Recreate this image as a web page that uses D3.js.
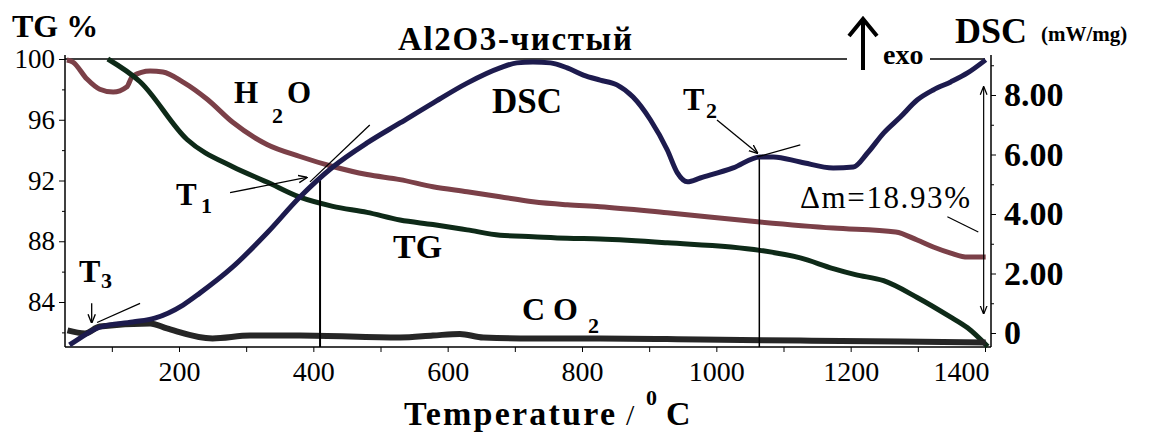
<!DOCTYPE html>
<html>
<head>
<meta charset="utf-8">
<script src="https://cdn.jsdelivr.net/npm/d3@7/dist/d3.min.js"></script>
<style>
  body { margin: 0; background: #fff; }
  svg { display: block; }
</style>
</head>
<body>
<div class="vis-ta"></div>
<script>
// TG curve (mass %, left axis)
const tgTemp = [94, 142, 212, 280, 331, 380, 429, 480, 529, 578, 629, 678, 727, 778, 827, 927, 1065, 1125, 1174, 1207, 1249, 1299, 1349, 1374, 1404];
const tgVal = [100, 98.5, 94.7, 92.9, 91.9, 90.9, 90.3, 89.9, 89.4, 89.1, 88.75, 88.4, 88.3, 88.2, 88.15, 87.9, 87.4, 86.9, 86.2, 85.8, 85.4, 84.3, 83.0, 82.3, 81.07];

// H2O signal (drawn on the TG scale)
const h2oTemp = [33, 42, 63, 82, 102, 122, 131, 157, 176, 206, 242, 280, 331, 380, 429, 480, 529, 578, 629, 678, 727, 778, 827, 927, 1065, 1174, 1267, 1299, 1323, 1349, 1374, 1401];
const h2oVal = [99.93, 99.8, 98.68, 98.01, 97.82, 98.15, 98.87, 99.21, 99.14, 98.48, 97.35, 95.83, 94.37, 93.58, 92.92, 92.39, 92.06, 91.59, 91.26, 90.93, 90.6, 90.4, 90.27, 89.87, 89.27, 88.87, 88.61, 88.08, 87.62, 87.22, 86.96, 86.96];

// DSC curve (mW/mg, right axis)
const dscTemp = [37, 48, 82, 131, 164, 206, 231, 280, 331, 380, 429, 480, 529, 578, 629, 678, 703, 727, 753, 778, 802, 827, 852, 876, 902, 927, 942, 957, 976, 1025, 1065, 1085, 1125, 1174, 1204, 1225, 1249, 1274, 1299, 1323, 1349, 1374, 1401];
const dscVal = [-0.4, -0.24, 0.2, 0.37, 0.5, 0.94, 1.34, 2.22, 3.36, 4.57, 5.58, 6.39, 7.06, 7.73, 8.4, 8.91, 9.08, 9.11, 9.08, 8.91, 8.67, 8.5, 8.34, 7.93, 7.16, 6.15, 5.38, 5.08, 5.21, 5.55, 5.92, 5.92, 5.75, 5.55, 5.58, 6.05, 6.72, 7.26, 7.83, 8.17, 8.44, 8.74, 9.18];

// CO2 signal (drawn on the TG scale)
const co2Temp = [34, 60, 82, 157, 182, 250, 306, 380, 529, 578, 618, 653, 727, 827, 976, 1125, 1274, 1401];
const co2Val = [82.13, 81.93, 82.39, 82.59, 82.26, 81.6, 81.79, 81.79, 81.66, 81.79, 81.9, 81.66, 81.6, 81.6, 81.53, 81.46, 81.4, 81.33];

// ticks
const xTicks = [100, 200, 300, 400, 500, 600, 700, 800, 900, 1000, 1100, 1200, 1300, 1400];
const tgTicks = [82, 84, 86, 88, 90, 92, 94, 96, 98, 100];
const dscTicks = [0, 1, 2, 3, 4, 5, 6, 7, 8, 9];

// marked temperatures
const t1Temp = 410, t1Dsc = 5.2;
const t2Temp = 1064, t2Dsc = 5.92;

const FONT = '"Liberation Serif", "Times New Roman", Times, "DejaVu Serif", serif';

const width = 1149, height = 436;
const svg = d3.select(".vis-ta").append("svg")
  .attr("width", width).attr("height", height);

const x = d3.scaleLinear().domain([200, 1400]).range([179, 985]);
const yTG = d3.scaleLinear().domain([84, 100]).range([302, 59]);
const yDSC = d3.scaleLinear().domain([0, 8]).range([333, 95]);

const frameL = 65, frameR = 991, frameB = 347, frameT = 55;

const defs = svg.append("defs");
defs.append("marker").attr("id", "ah")
  .attr("viewBox", "0 0 10 10").attr("refX", 9).attr("refY", 5)
  .attr("markerWidth", 7).attr("markerHeight", 7).attr("orient", "auto-start-reverse")
  .append("path").attr("d", "M0,1 L10,5 L0,9").attr("fill", "none").attr("stroke", "#000").attr("stroke-width", 1.5);

// frame lines
svg.append("line").attr("x1", frameL).attr("x2", frameL).attr("y1", frameT).attr("y2", frameB)
  .attr("stroke", "#000").attr("stroke-width", 1.5);
svg.append("line").attr("x1", frameR).attr("x2", frameR).attr("y1", frameT).attr("y2", frameB)
  .attr("stroke", "#000").attr("stroke-width", 1.5);
svg.append("line").attr("x1", frameL).attr("x2", 847).attr("y1", yTG(100)).attr("y2", yTG(100))
  .attr("stroke", "#000").attr("stroke-width", 1.5);
svg.append("line").attr("x1", 930).attr("x2", frameR - 6).attr("y1", yTG(100)).attr("y2", yTG(100))
  .attr("stroke", "#000").attr("stroke-width", 1.5);

// X axis
const xAxis = svg.append("g").attr("transform", "translate(0," + frameB + ")")
  .call(d3.axisBottom(x).tickValues(xTicks).tickSize(5).tickPadding(9).tickSizeOuter(0)
    .tickFormat((d) => (d % 200 === 0 ? d : "")));
xAxis.select(".domain").attr("d", "M" + frameL + ",0H" + frameR).attr("stroke-width", 1.5);
xAxis.selectAll("text").style("font-family", FONT).style("font-size", "28px").attr("fill", "#000")
  .attr("x", (d) => (d === 1400 ? -24 : 0));

// left axis (TG %)
const yAxisL = svg.append("g").attr("transform", "translate(" + frameL + ",0)")
  .call(d3.axisLeft(yTG).tickValues(tgTicks).tickSize(6).tickPadding(4)
    .tickFormat((d) => (d % 4 === 0 ? d : "")));
yAxisL.select(".domain").remove();
yAxisL.selectAll(".tick line").attr("x2", (d) => (d % 4 === 0 ? -6 : -3));
yAxisL.selectAll("text").style("font-family", FONT).style("font-size", "27px").attr("fill", "#000");

// right axis (DSC)
const yAxisR = svg.append("g").attr("transform", "translate(" + frameR + ",0)")
  .call(d3.axisRight(yDSC).tickValues(dscTicks).tickSize(5).tickPadding(8)
    .tickFormat((d) => (d === 0 ? "0" : d % 2 === 0 ? d.toFixed(2) : "")));
yAxisR.select(".domain").remove();
yAxisR.selectAll(".tick line").attr("x2", (d) => (d % 2 === 0 ? 5 : 3));
yAxisR.selectAll("text").style("font-family", FONT).style("font-size", "34px")
  .style("font-weight", "bold").attr("fill", "#000");

// curves
const curve = (temps, vals, yScale) =>
  d3.line().curve(d3.curveMonotoneX)
    .x((d, i) => x(temps[i]))
    .y((d) => yScale(d))(vals);

svg.append("path").attr("d", curve(h2oTemp, h2oVal, yTG))
  .attr("fill", "none").attr("stroke", "#7b4048").attr("stroke-width", 5).attr("stroke-linejoin", "round");
svg.append("path").attr("d", curve(tgTemp, tgVal, yTG))
  .attr("fill", "none").attr("stroke", "#0e2a18").attr("stroke-width", 5).attr("stroke-linejoin", "round");
svg.append("path").attr("d", curve(co2Temp, co2Val, yTG))
  .attr("fill", "none").attr("stroke", "#262626").attr("stroke-width", 6).attr("stroke-linejoin", "round");

// T1 / T2 vertical markers
svg.append("line").attr("x1", x(t1Temp)).attr("x2", x(t1Temp))
  .attr("y1", yDSC(t1Dsc)).attr("y2", frameB).attr("stroke", "#000").attr("stroke-width", 2);
svg.append("line").attr("x1", x(t2Temp)).attr("x2", x(t2Temp))
  .attr("y1", yDSC(t2Dsc)).attr("y2", frameB).attr("stroke", "#000").attr("stroke-width", 1.5);

svg.append("path").attr("d", curve(dscTemp, dscVal, yDSC))
  .attr("fill", "none").attr("stroke", "#1d1b4e").attr("stroke-width", 5).attr("stroke-linejoin", "round");

// tangents
const seg = (x1, y1, x2, y2, w) =>
  svg.append("line").attr("x1", x1).attr("y1", y1).attr("x2", x2).attr("y2", y2)
    .attr("stroke", "#000").attr("stroke-width", w || 1.2);
seg(x(395), yDSC(5.08), x(484), yDSC(6.99), 1.3);
seg(x(1061), yDSC(5.92), x(1125), yDSC(6.32), 1.3);
seg(x(78), yTG(82.65), x(142), yTG(83.91), 1.3);
seg(x(1344), yTG(89.61), x(1390), yTG(88.61), 1.2);

// arrows
seg(x(276), yTG(91.2), x(390), yTG(92.2), 1.3).attr("marker-end", "url(#ah)");
seg(x(1001), yDSC(7.16), x(1061), yDSC(6.05), 1.3).attr("marker-end", "url(#ah)");
seg(x(70), yTG(83.91), x(70), yTG(82.65), 1.3).attr("marker-end", "url(#ah)");
seg(x(1398), yTG(98.15), x(1398), yTG(83.25), 1.2)
  .attr("marker-start", "url(#ah)").attr("marker-end", "url(#ah)");

// exo arrow
svg.append("path").attr("d", "M863,70 V20 M849,36 L863,19 L877,36")
  .attr("fill", "none").attr("stroke", "#000").attr("stroke-width", 4);

// text
const label = (t, px, py, size, bold, anchor) =>
  svg.append("text").attr("x", px).attr("y", py).text(t)
    .attr("fill", "#000")
    .style("font-family", FONT)
    .style("font-size", size + "px")
    .style("font-weight", bold ? "bold" : "normal")
    .attr("text-anchor", anchor || "start");

label("TG %", 12, 37, 32, true);
label("DSC", 955, 43, 36, true);
label("(mW/mg)", 1041, 41, 21, true);
label("exo", 883, 64, 28, true);
label("Al2O3-чистый", 398, 50, 33, true).attr("textLength", 234);

label("H", 234, 103, 31, true);
label("2", 272, 123, 22, true);
label("O", 287, 103, 31, true);
label("DSC", 492, 113, 35, true);
label("T", 176, 205, 31, true);
label("1", 201, 213, 22, true);
label("TG", 393, 258, 34, true);
label("T", 79, 282, 32, true);
label("3", 101, 288, 22, true);
label("C O", 522, 320, 32, true);
label("2", 588, 333, 22, true);
label("T", 683, 110, 32, true);
label("2", 706, 118, 22, true);
label("\u0394m=18.93%", 800, 208, 31, false).attr("textLength", 170);

label("Temperature", 404, 425, 34, true).attr("textLength", 211);
label("/", 626, 425, 30, false);
label("0", 646, 405, 22, true);
label("C", 666, 425, 34, true);
</script>
</body>
</html>
